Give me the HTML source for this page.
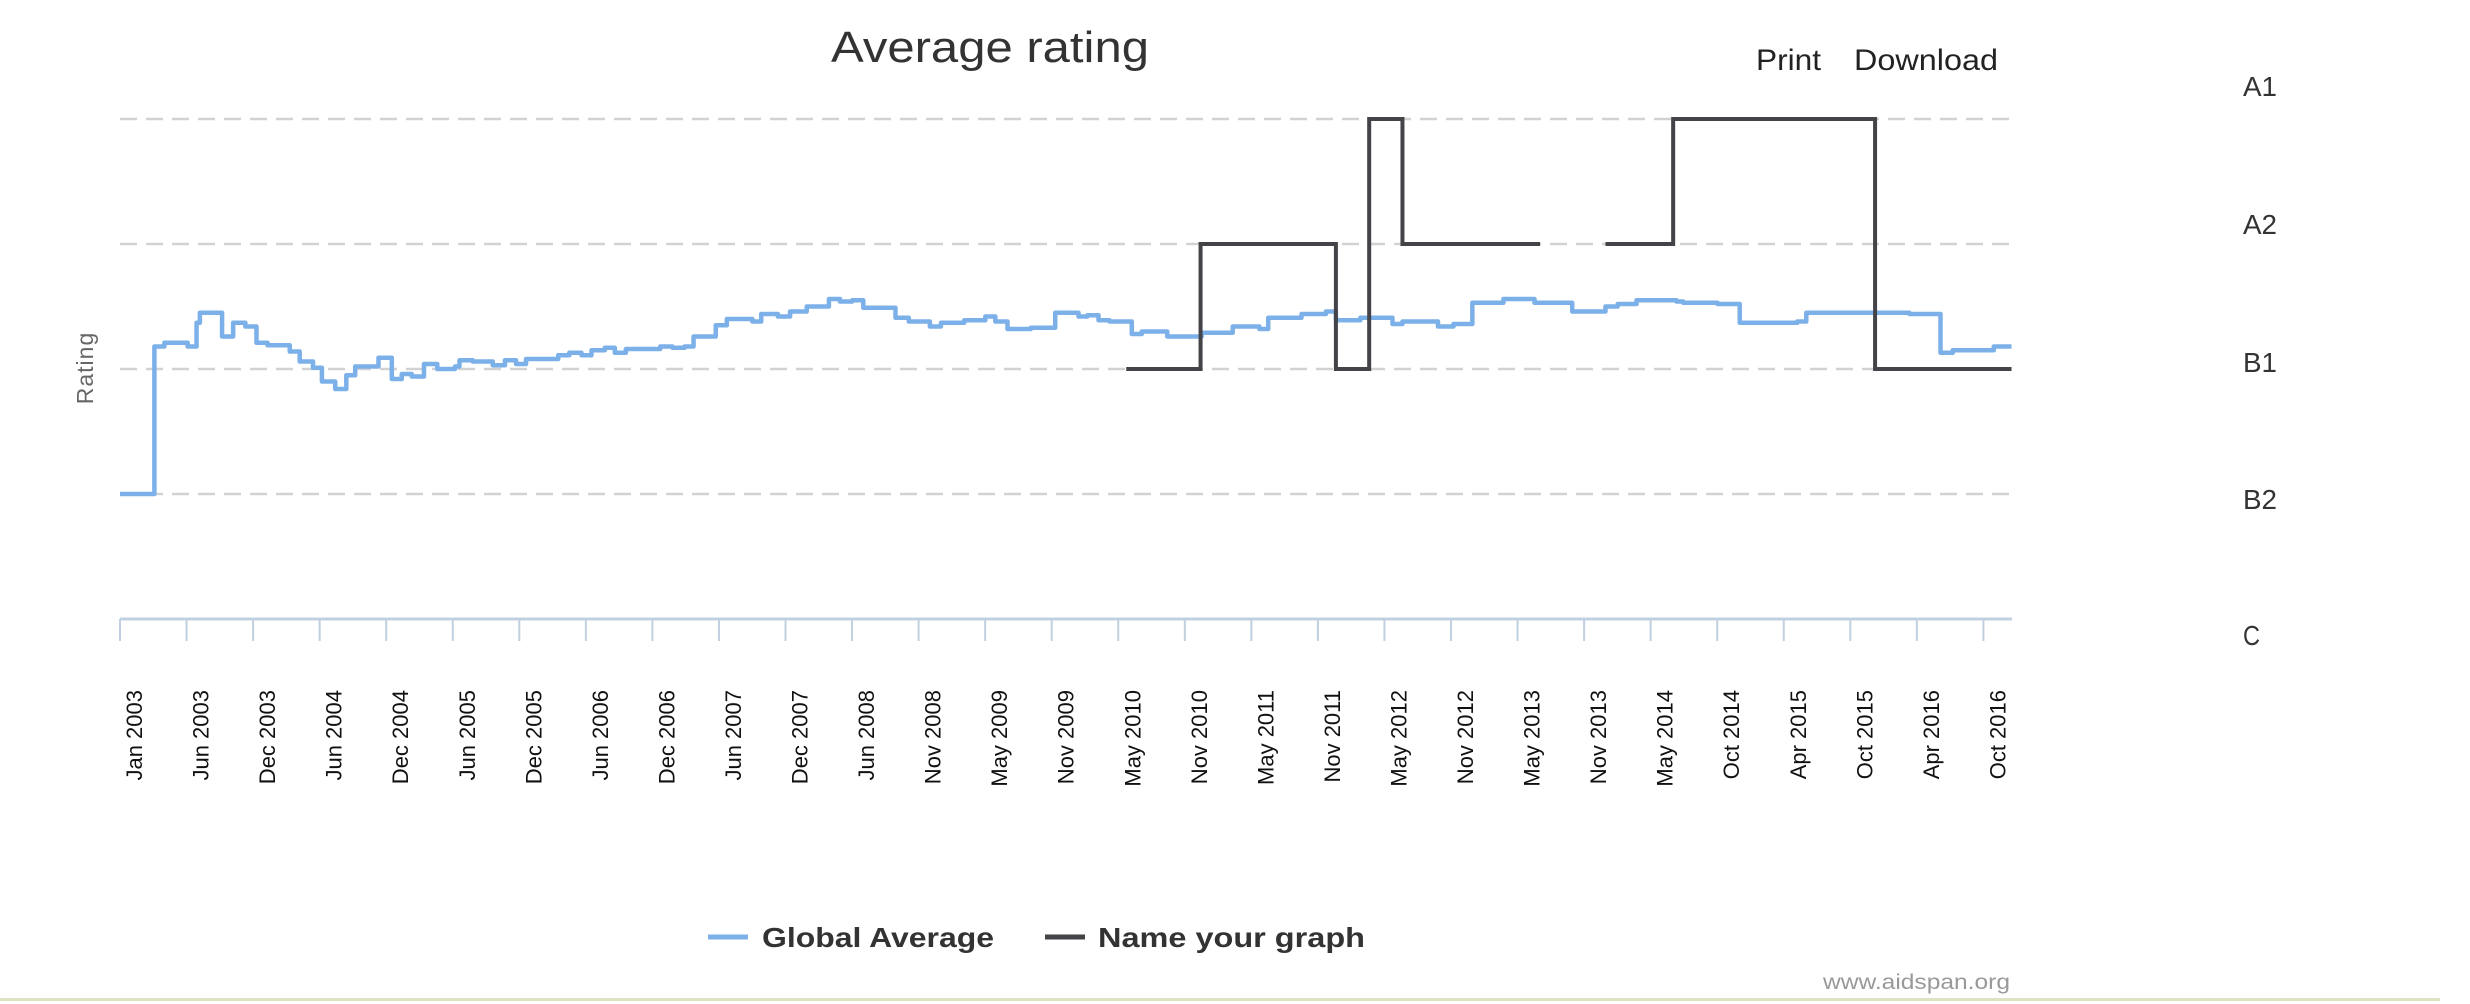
<!DOCTYPE html>
<html><head><meta charset="utf-8"><style>
html,body{margin:0;padding:0;background:#fff;width:2470px;height:1004px;overflow:hidden}
svg{display:block;font-family:"Liberation Sans",sans-serif}
</style></head><body>
<svg id="chart" width="2470" height="1004" viewBox="0 0 2470 1004">
<text x="990" y="62" text-anchor="middle" font-size="44" fill="#333" textLength="318" lengthAdjust="spacingAndGlyphs">Average rating</text>
<text x="1756" y="70" font-size="30" fill="#222" textLength="65" lengthAdjust="spacingAndGlyphs">Print</text>
<text x="1854" y="70" font-size="30" fill="#222" textLength="144" lengthAdjust="spacingAndGlyphs">Download</text>
<text transform="translate(93,368) rotate(-90)" text-anchor="middle" font-size="23" fill="#666" letter-spacing="1">Rating</text>
<g id="grid"></g>
<g id="xaxis"></g>
<g id="rlabels"></g>
<g id="series"></g>
<g>
<g>
<line x1="708" y1="937" x2="748" y2="937" stroke="#7cb0e8" stroke-width="5"/>
<text x="762" y="947" font-size="28" font-weight="bold" fill="#333" textLength="232" lengthAdjust="spacingAndGlyphs">Global Average</text>
</g>
<g>
<line x1="1045" y1="937" x2="1085" y2="937" stroke="#434348" stroke-width="5"/>
<text x="1098" y="947" font-size="28" font-weight="bold" fill="#333" textLength="267" lengthAdjust="spacingAndGlyphs">Name your graph</text>
</g>
</g>
<text x="2010" y="989" text-anchor="end" font-size="21" fill="#999" textLength="187" lengthAdjust="spacingAndGlyphs">www.aidspan.org</text>
<rect x="0" y="998" width="2440" height="3" fill="#dde3c2"/>
</svg>
<script>
// months since Jan 2003 ; rating level (0=C,1=B2,2=B1,3=A2,4=A1)
const globalMonths=[0,3.1,4.0,6.1,6.9,7.2,9.2,10.2,11.3,12.3,13.3,15.3,16.2,17.4,18.2,19.4,20.4,21.2,23.3,24.5,25.4,26.3,27.4,28.6,30.2,30.6,31.8,32.7,33.6,34.7,35.7,36.6,39.5,40.5,41.6,42.5,43.7,44.6,45.6,48.7,49.8,50.9,51.7,53.7,54.7,57.0,57.8,59.3,60.4,61.9,63.9,64.9,66.0,67.0,69.9,71.1,73.0,74.0,76.1,78.0,78.9,80.0,82.1,84.3,86.4,87.2,88.2,89.2,91.2,92.1,94.4,96.4,97.5,100.3,102.7,103.5,106.5,108.7,109.6,111.8,114.7,115.6,118.8,120.2,121.9,124.7,127.5,130.9,133.9,135.0,136.7,140.3,140.9,144.0,146.0,151.2,152.0,157.2,161.3,164.1,165.2,168.9,170.5];
const globalValues=[1.00,2.18,2.21,2.18,2.37,2.45,2.26,2.37,2.34,2.21,2.19,2.14,2.06,2.01,1.90,1.84,1.95,2.02,2.09,1.92,1.96,1.94,2.04,2.00,2.02,2.07,2.06,2.06,2.03,2.07,2.04,2.08,2.11,2.13,2.11,2.15,2.17,2.13,2.16,2.18,2.17,2.18,2.26,2.35,2.40,2.38,2.44,2.42,2.46,2.50,2.56,2.54,2.55,2.49,2.41,2.38,2.34,2.37,2.39,2.42,2.38,2.32,2.33,2.45,2.42,2.43,2.39,2.38,2.28,2.30,2.26,2.26,2.29,2.34,2.32,2.41,2.44,2.46,2.39,2.41,2.36,2.38,2.34,2.36,2.53,2.56,2.53,2.46,2.50,2.52,2.55,2.54,2.53,2.52,2.37,2.38,2.45,2.45,2.44,2.13,2.15,2.18,2.18];
const graphMonths=[90.7,97.4,109.6,112.6,115.6,128.0,null,133.9,140.0,158.2,170.5];
const graphValues=[2,3,2,4,3,3,null,3,4,2,2];
const tickLabels=["Jan 2003","Jun 2003","Dec 2003","Jun 2004","Dec 2004","Jun 2005","Dec 2005","Jun 2006","Dec 2006","Jun 2007","Dec 2007","Jun 2008","Nov 2008","May 2009","Nov 2009","May 2010","Nov 2010","May 2011","Nov 2011","May 2012","Nov 2012","May 2013","Nov 2013","May 2014","Oct 2014","Apr 2015","Oct 2015","Apr 2016","Oct 2016"];
const levelLabels=["C","B2","B1","A2","A1"];

const NS="http://www.w3.org/2000/svg";
const X0=120,X1=2012,PXM=11.094,Y0=619,PXL=125;
const xs=m=>X0+m*PXM, ys=v=>Y0-v*PXL;
function mk(tag,attrs,parent){const e=document.createElementNS(NS,tag);for(const k in attrs)e.setAttribute(k,attrs[k]);parent.appendChild(e);return e;}
const grid=document.getElementById('grid');
for(let i=1;i<levelLabels.length;i++){
  const l=mk('line',{x1:X0,x2:X1,y1:ys(i),y2:ys(i),stroke:'#d2d2d2','stroke-width':2.5,'stroke-dasharray':'17,9'},grid);
  
  
}
const rl=document.getElementById('rlabels');
const lblY=[645,509,372,234,96];
levelLabels.forEach((t,i)=>{
  const e=mk('text',{x:2243,y:lblY[i],'font-size':28,fill:'#333',textLength:t.length*17,lengthAdjust:'spacingAndGlyphs'},rl);
  e.textContent=t;
  
  
});
const xa=document.getElementById('xaxis');
const ax=mk('line',{x1:X0,x2:X1,y1:Y0,y2:Y0,stroke:'#c0d0e0','stroke-width':3},xa);


const TS=66.55;
tickLabels.forEach((t,i)=>{
  const x=X0+i*TS;
  const tk=mk('line',{x1:x,x2:x,y1:Y0,y2:641,stroke:'#c0d0e0','stroke-width':2},xa);
  
  
  const tx=mk('text',{transform:`translate(${x+22},690) rotate(-90)`,'text-anchor':'end','font-size':22,fill:'#111'},xa);
  tx.textContent=t;
  
  
});
function stepPath(ms,vs){
  let d='',open=false;
  for(let i=0;i<ms.length;i++){
    if(ms[i]===null){open=false;continue;}
    const x=xs(ms[i]),y=ys(vs[i]);
    if(!open){d+=`M${x},${y}`;open=true;}
    else{d+=`H${x}V${y}`;}
  }
  return d;
}
const sg=document.getElementById('series');
const p1=mk('path',{d:stepPath(globalMonths,globalValues),fill:'none',stroke:'#7cb0e8','stroke-width':4.5,'stroke-linejoin':'round'},sg);


const p2=mk('path',{d:stepPath(graphMonths,graphValues),fill:'none',stroke:'#434348','stroke-width':4},sg);


</script>
</body></html>
